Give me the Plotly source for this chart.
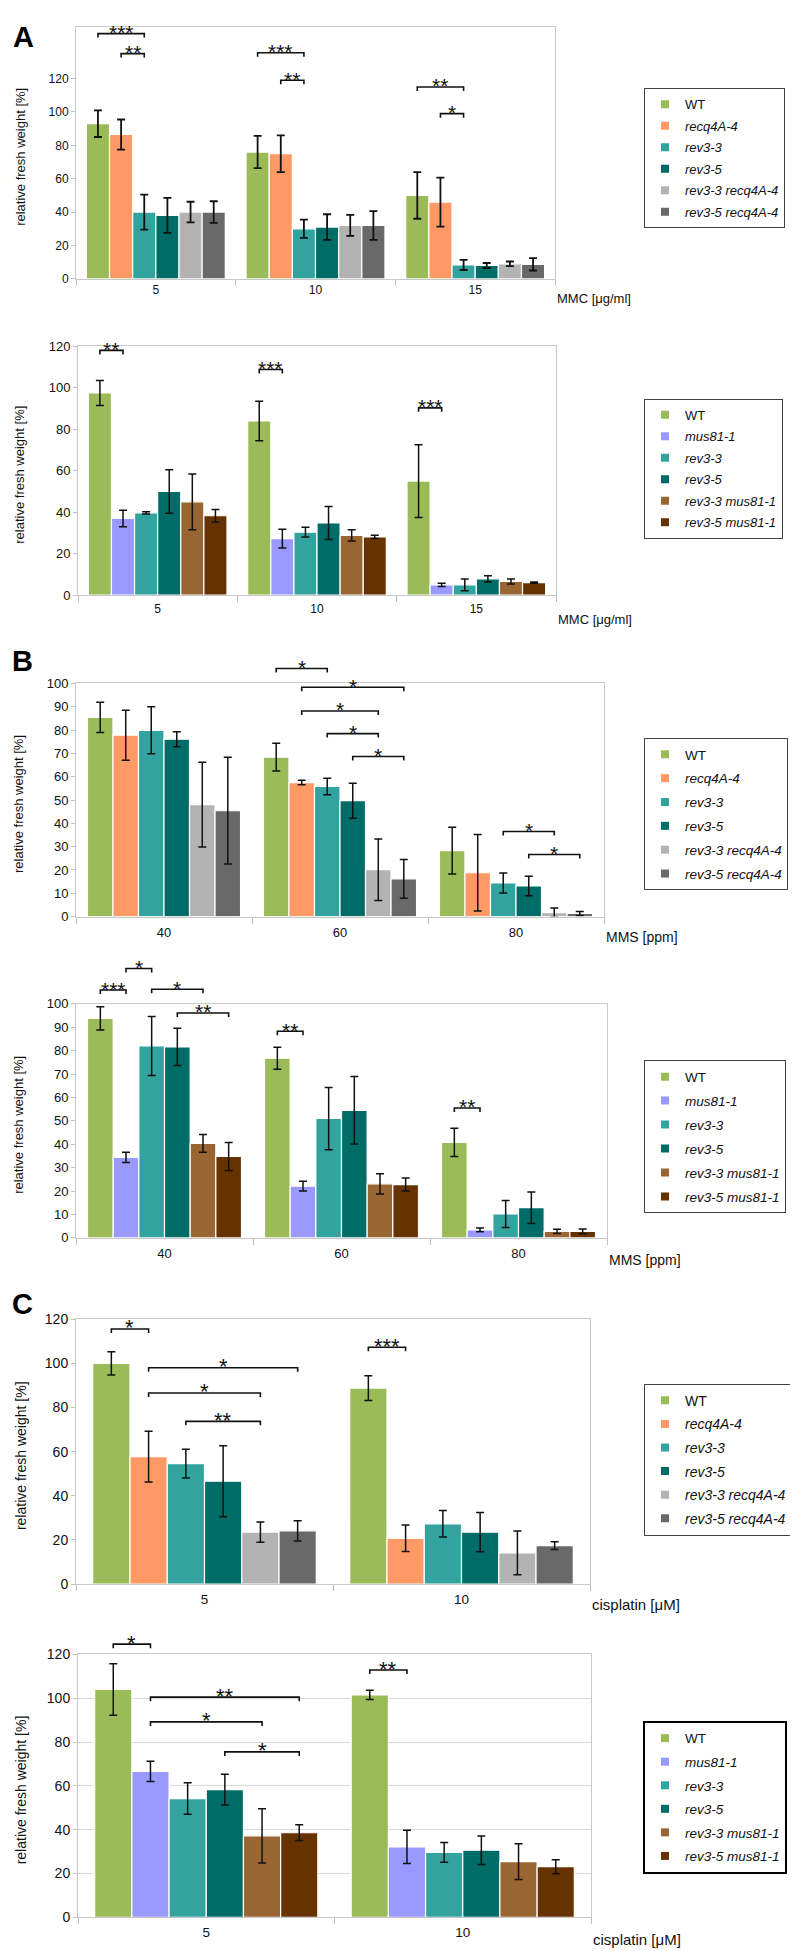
import plotly.graph_objects as go

W, H = 798, 1951
FONT = "Liberation Sans, Arial, Helvetica, sans-serif"
BARGAP = 0.13

# ---------------- data ----------------
mmc_doses = ["5", "10", "15"]
mms_doses = ["40", "60", "80"]
cis_doses = ["5", "10"]

recq_lines = ["WT", "recq4A-4", "rev3-3", "rev3-5", "rev3-3 recq4A-4", "rev3-5 recq4A-4"]
mus_lines = ["WT", "mus81-1", "rev3-3", "rev3-5", "rev3-3 mus81-1", "rev3-5 mus81-1"]
recq_colors = ["#9BBB59", "#FF9966", "#33A3A0", "#006C68", "#B3B3B3", "#696969"]
mus_colors = ["#9BBB59", "#9999FF", "#33A3A0", "#006C68", "#996633", "#663300"]

# rows = genotypes (order of the line lists), columns = doses
mmc_recq_mean = [[93, 76, 50], [86.5, 75, 46], [40, 30, 8.3], [38, 31, 8], [40, 32, 9], [40, 32, 8.7]]
mmc_recq_err = [[8, 9.7, 14], [9, 11, 14.7], [10.5, 5.5, 3], [10.5, 7.7, 1.5], [6.2, 6.3, 1.4], [6.5, 8.6, 3.7]]

mmc_mus_mean = [[97.5, 84, 55], [37, 27.3, 5], [39.7, 30.4, 5], [50, 34.8, 7.9], [45, 28.8, 6.6], [38.3, 28.1, 6.1]]
mmc_mus_err = [[6, 9.5, 17.5], [4, 4.5, 0.8], [0.5, 2.3, 2.8], [10.5, 8, 1.5], [13.4, 2.7, 1.2], [3, 0.8, 0.3]]

mms_recq_mean = [[85.5, 68.4, 28.3], [77.8, 57.5, 18.8], [79.9, 55.8, 14.4], [76.1, 49.7, 13.1], [48, 20.1, 1.7], [45.4, 16.2, 1.3]]
mms_recq_err = [[6.5, 6, 10], [10.7, 1, 16.4], [10.1, 3.5, 4.3], [3.2, 7.5, 4.2], [18.2, 13.2, 2], [22.9, 8.3, 0.9]]

mms_mus_mean = [[93.8, 76.8, 40.8], [34.4, 22.1, 3.4], [82, 51, 10.2], [81.6, 54.5, 12.9], [40.4, 23.1, 2.8], [34.8, 22.8, 2.8]]
mms_mus_err = [[5, 4.7, 6], [2.2, 2.1, 0.8], [12.6, 13.3, 5.8], [8, 14.4, 6.7], [3.8, 4.3, 0.9], [6, 2.8, 1]]

cis_recq_mean = [[100, 88.8], [57.7, 20.7], [54.6, 27.3], [46.6, 23.5], [23.5, 14.1], [24.1, 17.4]]
cis_recq_err = [[5.3, 5.6], [11.5, 6], [6.5, 6], [16.1, 8.9], [4.6, 9.9], [4.6, 1.8]]

cis_mus_mean = [[104, 101.5], [66.6, 32.1], [54.2, 29.6], [58.3, 30.6], [37.2, 25.4], [38.6, 23.1]]
cis_mus_err = [[11.8, 2.1], [4.6, 7.6], [7.2, 4.5], [7, 6.5], [12.4, 8.2], [3.6, 3.2]]

# significance brackets: (dose index, genotype a, genotype b, height [%], label)
mmc_recq_sig = [(0, 0, 2, 147, "***"), (0, 1, 2, 135, "**"), (1, 0, 2, 135.5, "***"),
                (1, 1, 2, 119, "**"), (2, 0, 2, 115, "**"), (2, 1, 2, 99, "*")]
mmc_mus_sig = [(0, 0, 1, 118, "**"), (1, 0, 1, 108.8, "***"), (2, 0, 1, 90.3, "***")]
mms_recq_sig = [(1, 0, 2, 106.4, "*"), (1, 1, 5, 98.4, "*"), (1, 1, 4, 88.2, "*"), (1, 2, 4, 78.5, "*"),
                (1, 3, 5, 68.7, "*"), (2, 2, 4, 36.5, "*"), (2, 3, 5, 26.6, "*")]
mms_mus_sig = [(0, 0, 1, 105.9, "***"), (0, 1, 2, 115.1, "*"), (0, 2, 4, 106.2, "*"), (0, 3, 5, 96.1, "**"),
               (1, 0, 1, 88.3, "**"), (2, 0, 1, 55.5, "**")]
cis_recq_sig = [(0, 0, 1, 115.6, "*"), (0, 1, 5, 98, "*"), (0, 1, 4, 86.6, "*"), (0, 2, 4, 73.7, "**"),
                (1, 0, 1, 107.3, "***")]
cis_mus_sig = [(0, 0, 1, 124.7, "*"), (0, 1, 5, 100.5, "**"), (0, 1, 4, 89.2, "*"), (0, 3, 5, 75.5, "*"),
               (1, 0, 1, 112.9, "**")]

# ---------------- panel layout (pixels) ----------------
panels = [
    dict(doses=mmc_doses, lines=recq_lines, colors=recq_colors, mean=mmc_recq_mean, err=mmc_recq_err,
         sig=mmc_recq_sig, box=(68, 547, 11, 265), ymax=151, ydt=20, ytop=120, grid=False,
         unit="MMC [μg/ml]", unit_y=285, unit_fs=13, tick_fs=12, xtick_fs=12, title_x=13, xstand=0,
         leg=(636, 73), leg_fs=13, leg_gap=1.6, leg_bw=1, leg_bc="#404040", star_fs=21, eb=1.8),
    dict(doses=mmc_doses, lines=mus_lines, colors=mus_colors, mean=mmc_mus_mean, err=mmc_mus_err,
         sig=mmc_mus_sig, box=(70, 548, 333, 584), ymax=120, ydt=20, ytop=120, grid=False,
         unit="MMC [μg/ml]", unit_y=608, unit_fs=13, tick_fs=13, xtick_fs=12, title_x=12, xstand=2,
         leg=(636, 386), leg_fs=13, leg_gap=1.6, leg_bw=1, leg_bc="#404040", star_fs=21, eb=1.5),
    dict(doses=mms_doses, lines=recq_lines, colors=recq_colors, mean=mms_recq_mean, err=mms_recq_err,
         sig=mms_recq_sig, box=(68, 596, 673, 908), ymax=100, ydt=10, ytop=100, grid=False,
         unit="MMS [ppm]", unit_y=929, unit_fs=14, tick_fs=13, xtick_fs=13, title_x=11, xstand=4,
         leg=(636, 728), leg_fs=13.5, leg_gap=3.3, leg_bw=1, leg_bc="#404040", star_fs=21, eb=1.5),
    dict(doses=mms_doses, lines=mus_lines, colors=mus_colors, mean=mms_mus_mean, err=mms_mus_err,
         sig=mms_mus_sig, box=(68, 599, 996, 1232), ymax=100, ydt=10, ytop=100, grid=False,
         unit="MMS [ppm]", unit_y=1254, unit_fs=14, tick_fs=13, xtick_fs=13, title_x=11, xstand=4,
         leg=(636, 1053), leg_fs=13.5, leg_gap=3.4, leg_bw=1, leg_bc="#404040", star_fs=21, eb=1.5),
    dict(doses=cis_doses, lines=recq_lines, colors=recq_colors, mean=cis_recq_mean, err=cis_recq_err,
         sig=cis_recq_sig, box=(68, 582, 1314, 1581), ymax=120, ydt=20, ytop=120, grid=False,
         unit="cisplatin [μM]", unit_y=1602, unit_fs=15, tick_fs=14, xtick_fs=13.5, title_x=12.5, xstand=3,
         leg=(636, 1379), leg_fs=14, leg_gap=2.4, leg_bw=1, leg_bc="#404040", star_fs=22, eb=1.5),
    dict(doses=cis_doses, lines=mus_lines, colors=mus_colors, mean=cis_mus_mean, err=cis_mus_err,
         sig=cis_mus_sig, box=(70, 583, 1652, 1917), ymax=120, ydt=20, ytop=120, grid=True,
         unit="cisplatin [μM]", unit_y=1939, unit_fs=15, tick_fs=14, xtick_fs=13.5, title_x=12.5, xstand=3,
         leg=(635, 1719), leg_fs=13.5, leg_gap=3.0, leg_bw=2, leg_bc="#000000", star_fs=22, eb=1.5),
]

letters = [("A", 3, 21), ("B", 2, 650), ("C", 2, 1299)]


def px_to_paper(x, y):
    return x / W, 1 - y / H


def bar_px(p, dose_idx, line_idx, value):
    L, R, T, B = p["box"]
    n = len(p["doses"])
    w = (1 - BARGAP) / len(p["lines"])
    c = dose_idx + (line_idx - (len(p["lines"]) - 1) / 2) * w
    x = L + (c + 0.5) / n * (R - L)
    y = B - value / p["ymax"] * (B - T)
    return x, y


def fmt_name(name):
    if name == "WT":
        return "WT"
    return "<i>" + name + "</i>"


fig = go.Figure()
shapes = []
annotations = []
layout = {}

for i, p in enumerate(panels, start=1):
    suffix = "" if i == 1 else str(i)
    xa, ya = "x" + suffix, "y" + suffix
    leg_name = "legend" + suffix
    L, R, T, B = p["box"]

    for j, name in enumerate(p["lines"]):
        fig.add_trace(go.Bar(
            x=p["doses"], y=p["mean"][j], name=name,
            marker=dict(color=p["colors"][j], line=dict(color="white", width=1.2)),
            error_y=dict(type="data", array=p["err"][j], visible=True, color="#111111",
                         thickness=p["eb"], width=4),
            xaxis=xa, yaxis=ya, showlegend=False, hoverinfo="x+y+name",
        ))
    # legend entries (small square swatches)
    for j, name in enumerate(p["lines"]):
        fig.add_trace(go.Scatter(
            x=[None], y=[None], mode="markers", name=fmt_name(name),
            marker=dict(symbol="square", size=8, color=p["colors"][j]),
            xaxis=xa, yaxis=ya, legend=leg_name, legendgroup=f"p{i}g{j}", showlegend=True,
        ))

    layout["xaxis" + suffix] = dict(
        type="category", categoryorder="array", categoryarray=p["doses"],
        domain=[L / W, R / W], anchor=ya, range=[-0.5, len(p["doses"]) - 0.5],
        tickson="boundaries", ticks="outside", ticklen=6, tickcolor="#BFBFBF", tickwidth=1,
        ticklabelstandoff=p["xstand"],
        showline=True, linecolor="#C8C8C8", linewidth=1, mirror=True, showgrid=False,
        tickfont=dict(family=FONT, size=p["xtick_fs"], color="#111111"), fixedrange=True,
    )
    layout["yaxis" + suffix] = dict(
        domain=[1 - B / H, 1 - T / H], anchor=xa, range=[0, p["ymax"]],
        tickmode="array", tickvals=list(range(0, p["ytop"] + 1, p["ydt"])),
        ticks="outside", ticklen=4, tickcolor="#BFBFBF",
        showline=True, linecolor="#C8C8C8", linewidth=1, mirror=True,
        showgrid=p["grid"], gridcolor="#D9D9D9", gridwidth=1, zeroline=False,
        tickfont=dict(family=FONT, size=p["tick_fs"], color="#111111"), fixedrange=True,
    )
    lx, ly = px_to_paper(*p["leg"])
    layout[leg_name] = dict(
        x=lx, y=ly, xanchor="left", yanchor="top", bgcolor="white",
        bordercolor=p["leg_bc"], borderwidth=p["leg_bw"], tracegroupgap=p["leg_gap"],
        font=dict(family=FONT, size=p["leg_fs"], color="#111111"), itemclick=False, itemdoubleclick=False,
    )

    # axis unit label at the right end of the x axis
    ux, uy = px_to_paper(R, p["unit_y"])
    annotations.append(dict(text=p["unit"], x=ux, y=uy, xref="paper", yref="paper", xanchor="left",
                            yanchor="middle", showarrow=False,
                            font=dict(family=FONT, size=p["unit_fs"], color="#111111")))
    # y axis title
    tx, ty = px_to_paper(p["title_x"], (T + B) / 2 + 4)
    annotations.append(dict(text="relative fresh weight [%]", x=tx, y=ty, xref="paper", yref="paper",
                            xanchor="center", yanchor="middle", textangle=-90, showarrow=False,
                            font=dict(family=FONT, size=13 if i < 5 else 14, color="#111111")))

    # significance brackets
    for (d, a, b, h, lab) in p["sig"]:
        x1, y1 = bar_px(p, d, a, h)
        x2, _ = bar_px(p, d, b, h)
        drop = 4
        X1, Y1 = px_to_paper(x1, y1)
        X2, _ = px_to_paper(x2, y1)
        _, Yd = px_to_paper(x1, y1 + drop)
        shapes.append(dict(type="path", xref="paper", yref="paper",
                           path=f"M {X1},{Yd} L {X1},{Y1} L {X2},{Y1} L {X2},{Yd}",
                           line=dict(color="#111111", width=1.6)))
        sx, sy = px_to_paper((x1 + x2) / 2, y1 - 1)
        annotations.append(dict(text=lab, x=sx, y=sy, xref="paper", yref="paper",
                                xanchor="center", yanchor="middle", showarrow=False,
                                font=dict(family=FONT, size=p["star_fs"], color="#111111")))

for (t, x, y) in letters:
    lx, ly = px_to_paper(x, y)
    annotations.append(dict(text="<b>" + t + "</b>", x=lx, y=ly, xref="paper", yref="paper",
                            xanchor="left", yanchor="middle", showarrow=False,
                            font=dict(family=FONT, size=29, color="#000000")))

fig.update_layout(
    width=W, height=H, autosize=False,
    margin=dict(l=0, r=0, t=0, b=0, pad=0),
    paper_bgcolor="white", plot_bgcolor="white",
    barmode="group", bargap=BARGAP, bargroupgap=0,
    font=dict(family=FONT, size=13, color="#111111"),
    shapes=shapes, annotations=annotations,
    **layout,
)

fig.write_html("out.html", include_plotlyjs=True, config={"displayModeBar": False})
